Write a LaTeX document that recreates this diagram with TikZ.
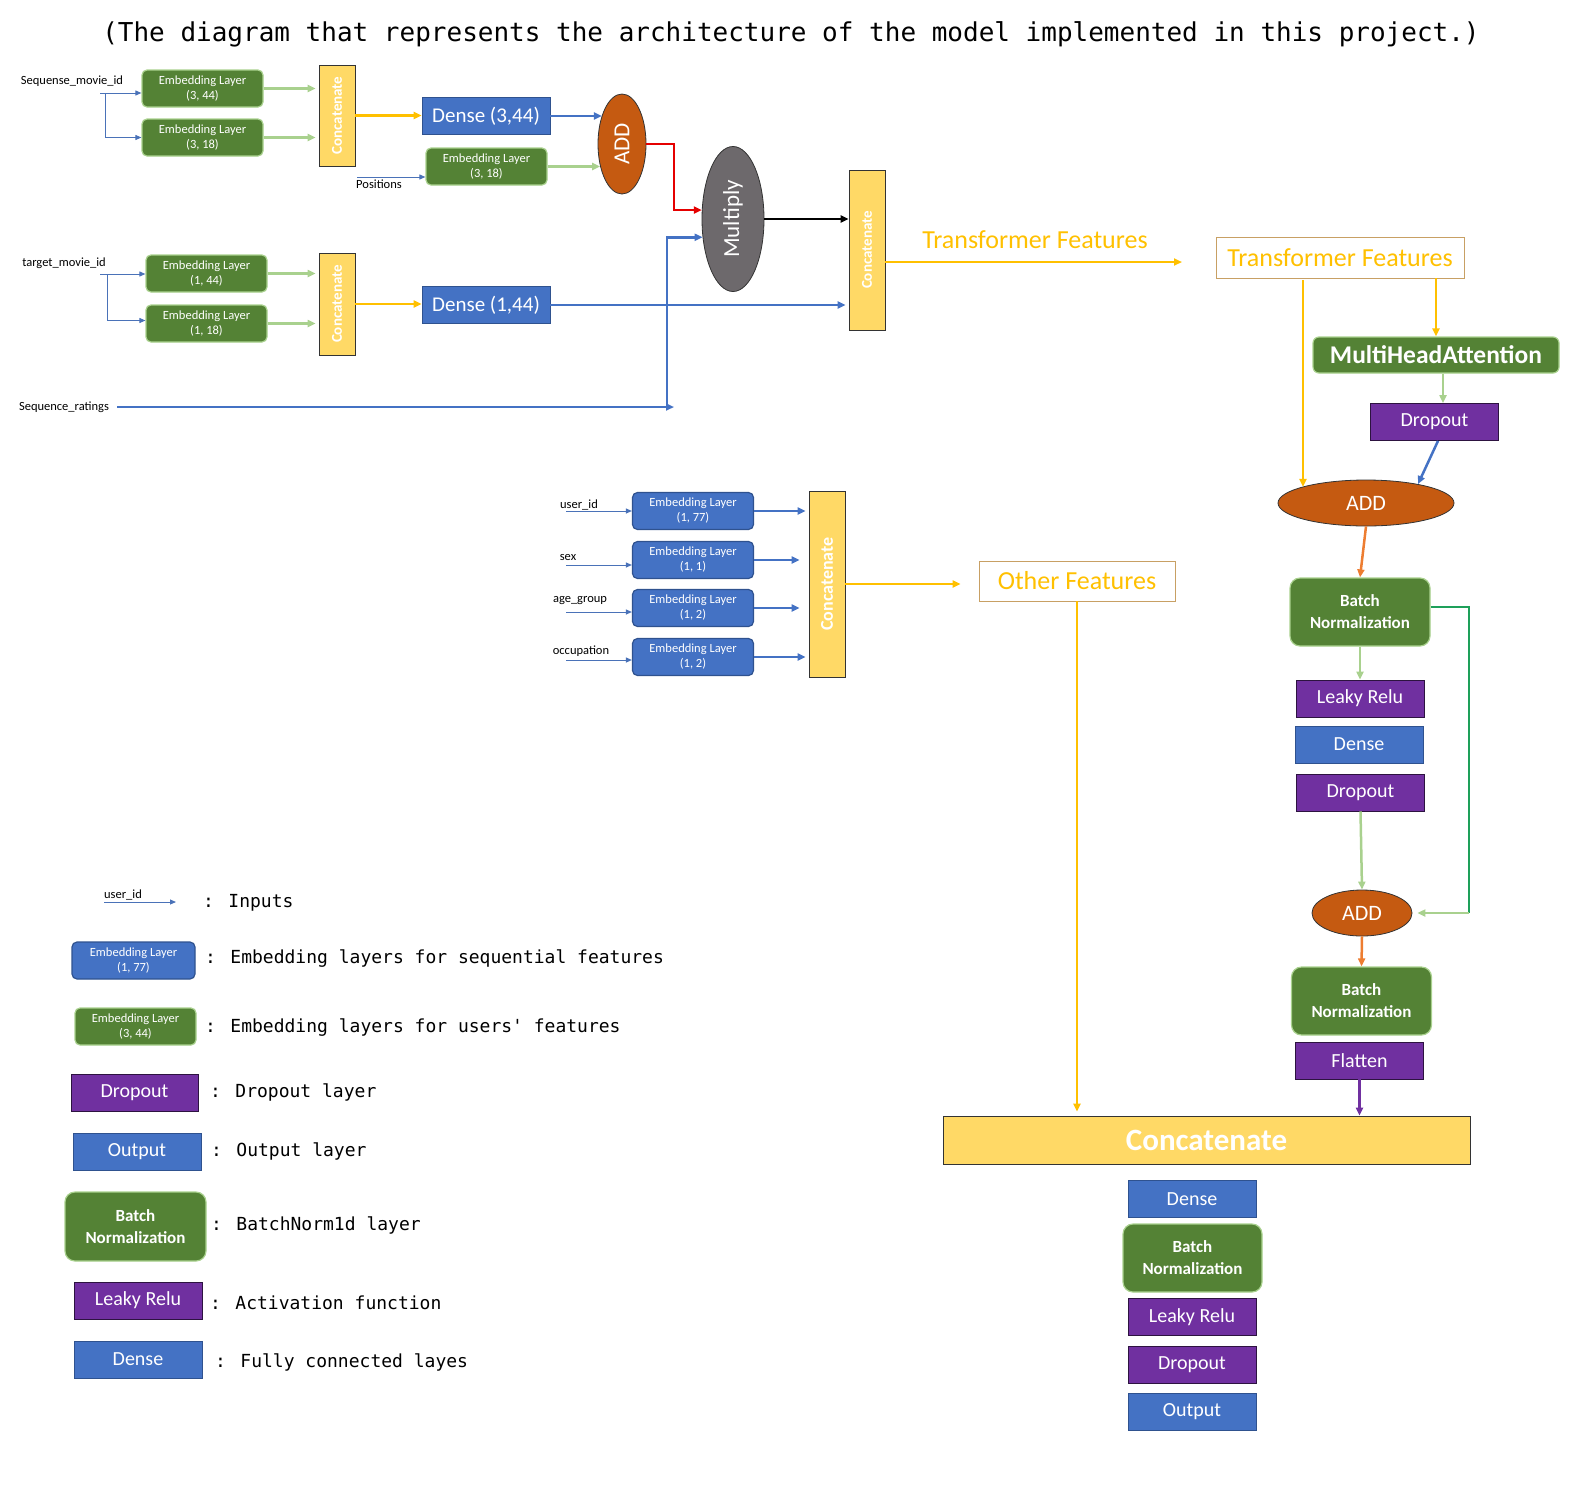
\documentclass[tikz,border=0pt]{standalone}
\usepackage{fontspec}
\setmainfont{Carlito}
\newfontfamily\monofont{DejaVu Sans Mono}
\usepackage{graphicx}
\usetikzlibrary{arrows.meta,shapes.geometric}

\definecolor{embgreen}{RGB}{84,130,53}
\definecolor{lgreen}{RGB}{169,209,142}
\definecolor{lblue}{RGB}{68,114,196}
\definecolor{navy}{RGB}{47,82,143}
\definecolor{lpurple}{RGB}{112,48,160}
\definecolor{cyellow}{RGB}{255,217,102}
\definecolor{gold}{RGB}{255,192,0}
\definecolor{addorange}{RGB}{197,90,17}
\definecolor{mulgray}{RGB}{109,105,108}
\definecolor{arrorange}{RGB}{237,125,49}
\definecolor{skipgreen}{RGB}{30,160,90}
\definecolor{tanline}{RGB}{200,160,100}
\definecolor{inblue}{RGB}{74,114,184}

\tikzset{
  emb/.style={draw=lgreen, fill=embgreen, rounded corners=5pt, line width=1.2pt, text=white, align=center,
    minimum width=121pt, minimum height=37pt, inner sep=0pt, font=\fontsize{12.5}{15}\selectfont},
  embblue/.style={emb, draw=navy},
  layer/.style={draw=black!80, line width=0.8pt, text=white, minimum width=128pt, minimum height=37pt,
    inner sep=0pt, font=\fontsize{20}{24}\selectfont},
  dense/.style={layer, fill=lblue, draw=navy},
  drop/.style={layer, fill=lpurple, draw=black!60!lpurple},
  bnorm/.style={draw=lgreen, fill=embgreen, rounded corners=10pt, line width=1.2pt, text=white, align=center,
    minimum width=140pt, minimum height=68pt, inner sep=0pt, font=\bfseries\fontsize{17}{22}\selectfont},
  concat/.style={draw=black!80, line width=0.8pt, fill=cyellow, text=white, minimum width=36pt, inner sep=0pt,
    font=\bfseries\fontsize{15}{16}\selectfont},
  addnode/.style={ellipse, draw=black!80, line width=0.8pt, fill=addorange, text=white, inner sep=0pt,
    font=\fontsize{22}{24}\selectfont},
  feat/.style={draw=tanline, line width=0.8pt, fill=white, text=gold, inner sep=0pt, font=\fontsize{26}{28}\selectfont},
  inlbl/.style={inner sep=0pt, font=\fontsize{12.5}{14}\selectfont},
  legtxt/.style={anchor=west, inner sep=0pt, font=\monofont\fontsize{18}{20}\selectfont},
  inarr/.style={draw=inblue, line width=1pt, -{Triangle[length=6pt,width=5pt]}},
  lgarr/.style={draw=lgreen, line width=2.5pt, -{Triangle[length=8pt,width=7pt]}},
  yelarr/.style={draw=gold, line width=2.5pt, -{Triangle[length=8pt,width=7pt]}},
  bluearr/.style={draw=lblue, line width=2.5pt, -{Triangle[length=8pt,width=7pt]}},
  redarr/.style={draw=red!90!black, line width=2.5pt, -{Triangle[length=8pt,width=7pt]}},
  blkarr/.style={draw=black, line width=2pt, -{Triangle[length=8pt,width=7pt]}},
  orarr/.style={draw=arrorange, line width=2.5pt, -{Triangle[length=8pt,width=7pt]}},
  purarr/.style={draw=lpurple, line width=2.5pt, -{Triangle[length=8pt,width=7pt]}},
}

\begin{document}
\begin{tikzpicture}[x=1pt,y=-1pt]
    \useasboundingbox (0,0) rectangle (1588,1492);

    % Titulo
    \node[font=\monofont\fontsize{26}{30}\selectfont] (title) at (791,34)
        {(The diagram that represents the architecture of the model implemented in this project.)};

    % Secuencia de peliculas
    \node[inlbl] (smid) at (72,81) {Sequense\_movie\_id};
    \node[emb] (e1) at (202.5,88.5) {Embedding Layer\\(3, 44)};
    \node[emb] (e2) at (202.5,137.5) {Embedding Layer\\(3, 18)};
    \node[concat, minimum height=101pt] (c1) at (337,115.5) {\rotatebox{90}{Concatenate}};
    \node[dense, font=\fontsize{21}{24}\selectfont] (d1) at (486,116) {Dense (3,44)};
    \node[inlbl] (pos) at (379,184) {Positions};
    \node[emb] (e3) at (486.5,166.5) {Embedding Layer\\(3, 18)};
    \node[addnode, minimum width=48pt, minimum height=100pt, font=\fontsize{23}{24}\selectfont] (add1) at (622,144) {\rotatebox{90}{ADD}};
    \node[addnode, fill=mulgray, minimum width=62pt, minimum height=145pt, font=\fontsize{23}{24}\selectfont] (mul) at (733,219) {\rotatebox{90}{Multiply}};
    \node[concat, minimum height=160pt] (c2) at (867,250) {\rotatebox{90}{Concatenate}};

    \coordinate (sm0) at (100,93);
    \coordinate (sm1) at (105,93);
    \draw[inarr] (sm0) -- (sm0 -| e1.west);
    \draw[inarr] (sm1) |- (e2.west);
    \draw[lgarr, shorten >=3pt] (e1.east) -- (e1.east -| c1.west);
    \draw[lgarr, shorten >=3pt] (e2.east) -- (e2.east -| c1.west);
    \draw[yelarr] (c1.east) -- (c1.east -| d1.west);
    \coordinate (ps0) at (357,177);
    \draw[inarr] (ps0) -- (ps0 -| e3.west);
    \draw[bluearr] (d1.east) -- (d1.east -| add1.125);
    \draw[lgarr] (e3.east) -- (e3.east -| add1.226);
    \draw[redarr, rounded corners=0pt] (add1.east) -| (674,175) |- (mul.164);
    \draw[blkarr] (mul.east) -- (mul.east -| c2.west);

    % Pelicula objetivo
    \node[inlbl] (tmid) at (64,263) {target\_movie\_id};
    \node[emb] (e4) at (206.5,273.5) {Embedding Layer\\(1, 44)};
    \node[emb] (e5) at (206.5,323.5) {Embedding Layer\\(1, 18)};
    \node[concat, minimum height=102pt] (c3) at (337,304) {\rotatebox{90}{Concatenate}};
    \node[dense, font=\fontsize{21}{24}\selectfont] (d2) at (486,305) {Dense (1,44)};

    \coordinate (tm0) at (100,274);
    \coordinate (tm1) at (107,274);
    \draw[inarr] (tm0) -- (tm0 -| e4.west);
    \draw[inarr] (tm1) |- ([yshift=3pt]e5.west);
    \draw[lgarr, shorten >=3pt] (e4.east) -- (e4.east -| c3.west);
    \draw[lgarr, shorten >=3pt] (e5.east) -- (e5.east -| c3.west);
    \draw[yelarr] (c3.east) -- (c3.east -| d2.west);
    \draw[bluearr, shorten >=3pt] (d2.east) -- (d2.east -| c2.west);

    % Calificaciones
    \node[inlbl] (sr) at (64,407) {Sequence\_ratings};
    \coordinate (rj) at (667,407);
    \coordinate (rend) at (674,407);
    \draw[bluearr] ([xshift=8pt]sr.east) -- (rend);
    \draw[bluearr] (rj) |- (mul.211);

    % Transformer
    \node[inner sep=0pt, text=gold, font=\fontsize{26}{28}\selectfont] (tf1) at (1035,240) {Transformer Features};
    \coordinate (tfend) at (1182,262);
    \draw[yelarr] (c2.east |- tfend) -- (tfend);
    \node[feat, minimum width=248pt, minimum height=41pt] (tf2) at (1340,257.5) {Transformer Features};
    \node[emb, rounded corners=6pt, minimum width=246pt, minimum height=36pt, font=\bfseries\fontsize{25.5}{28}\selectfont] (mha) at (1436,355) {MultiHeadAttention};
    \node[drop] (dr1) at (1434.5,422) {Dropout};
    \node[addnode, minimum width=176pt, minimum height=46pt] (add2) at (1366,503) {ADD};
    \node[bnorm] (bn1) at (1360,612) {Batch\\Normalization};
    \node[drop] (lr1) at (1360,698.5) {Leaky Relu};
    \node[dense] (dn1) at (1359,744.5) {Dense};
    \node[drop] (dr2) at (1360.5,792.5) {Dropout};
    \node[addnode, minimum width=100pt, minimum height=46pt] (add3) at (1362,913) {ADD};
    \node[bnorm] (bn2) at (1361.5,1001) {Batch\\Normalization};
    \node[drop] (fl) at (1359.5,1060.5) {Flatten};

    \coordinate (tfl) at (1303,280);
    \draw[yelarr] (tfl) -- (tfl |- add2.166);
    \draw[yelarr] (tf2.south -| mha.north) -- (mha.north);
    \draw[lgarr] ([xshift=7pt]mha.south) -- ([xshift=7pt]mha.south |- dr1.north);
    \draw[bluearr] ([xshift=3.5pt]dr1.south) -- (add2.20);
    \draw[orarr] (add2.south) -- (bn1.north);
    \draw[lgarr] (bn1.south) -- (lr1.north);
    \draw[lgarr] (dr2.south) -- (add3.north);
    \draw[orarr] (add3.south) -- (bn2.north);
    \coordinate (sk1) at (1469,607);
    \coordinate (sk2) at (1469,913);
    \draw[draw=skipgreen, line width=2.5pt] (bn1.east |- sk1) -- (sk1) -- (sk2);
    \draw[lgarr, shorten >=5pt] (sk2) -- (add3.east);

    % Caracteristicas del usuario
    \node[inlbl] (uid) at (579,505) {user\_id};
    \node[inlbl] (sex) at (568,558) {sex};
    \node[inlbl] (age) at (580,601) {age\_group};
    \node[inlbl] (occ) at (581,651) {occupation};
    \node[emb, fill=lblue, draw=navy] (e6) at (693,511) {Embedding Layer\\(1, 77)};
    \node[emb, fill=lblue, draw=navy] (e7) at (693,560) {Embedding Layer\\(1, 1)};
    \node[emb, fill=lblue, draw=navy] (e8) at (693,608) {Embedding Layer\\(1, 2)};
    \node[emb, fill=lblue, draw=navy] (e9) at (693,657) {Embedding Layer\\(1, 2)};
    \node[concat, minimum height=186pt, font=\bfseries\fontsize{18}{20}\selectfont] (c4) at (827,584) {\rotatebox{90}{Concatenate}};
    \node[feat, minimum width=196pt, minimum height=40pt] (of) at (1077,581) {Other Features};

    \coordinate (u0) at (566,511);
    \coordinate (u1) at (566,565);
    \coordinate (u2) at (566,612);
    \coordinate (u3) at (566,660);
    \draw[inarr] (u0) -- (u0 -| e6.west);
    \draw[inarr] (u1) -- (u1 -| e7.west);
    \draw[inarr] (u2) -- (u2 -| e8.west);
    \draw[inarr] (u3) -- (u3 -| e9.west);
    \draw[bluearr, shorten >=3pt] (e6.east) -- (e6.east -| c4.west);
    \draw[bluearr, shorten >=9pt] (e7.east) -- (e7.east -| c4.west);
    \draw[bluearr, shorten >=9pt] (e8.east) -- (e8.east -| c4.west);
    \draw[bluearr, shorten >=3pt] (e9.east) -- (e9.east -| c4.west);
    \draw[yelarr, shorten >=18pt] (c4.east) -- (c4.east -| of.west);

    % Salida
    \node[concat, minimum width=527pt, minimum height=48pt, font=\bfseries\fontsize{31}{34}\selectfont] (cat) at (1206.5,1140) {Concatenate};
    \node[dense] (dn2) at (1192,1199) {Dense};
    \node[bnorm, minimum width=139pt] (bn3) at (1192.5,1258) {Batch\\Normalization};
    \node[drop] (lr2) at (1192,1317) {Leaky Relu};
    \node[drop] (dr3) at (1192,1364.5) {Dropout};
    \node[dense] (out) at (1192,1411.5) {Output};
    \draw[yelarr, shorten >=4pt] (of.south) -- (of.south |- cat.north);
    \draw[purarr] (fl.south) -- (fl.south |- cat.north);

    % Leyenda
    \node[inlbl] (lin) at (123,895) {user\_id};
    \coordinate (lg0) at (104,902);
    \coordinate (lg1) at (176,902);
    \draw[inarr] (lg0) -- (lg1);
    \node[legtxt] (t1) at (203,903) {: Inputs};
    \node[emb, fill=lblue, draw=navy, minimum width=123pt] (l2) at (133.5,960.5) {Embedding Layer\\(1, 77)};
    \node[legtxt] (t2) at (205,959) {: Embedding layers for sequential features};
    \node[emb] (l3) at (135.5,1026.5) {Embedding Layer\\(3, 44)};
    \node[legtxt] (t3) at (205,1028) {: Embedding layers for users' features};
    \node[drop, minimum width=127pt] (l4) at (134.5,1092.5) {Dropout};
    \node[legtxt] (t4) at (210,1092) {: Dropout layer};
    \node[dense] (l5) at (137,1151.5) {Output};
    \node[legtxt] (t5) at (211,1151) {: Output layer};
    \node[bnorm, minimum width=141pt, minimum height=69pt] (l6) at (135.5,1226.5) {Batch\\Normalization};
    \node[legtxt] (t6) at (211,1225) {: BatchNorm1d layer};
    \node[drop] (l7) at (138,1300.5) {Leaky Relu};
    \node[legtxt] (t7) at (210,1303) {: Activation function};
    \node[dense] (l8) at (138,1359.5) {Dense};
    \node[legtxt] (t8) at (215,1362) {: Fully connected layes};
\end{tikzpicture}
\end{document}
